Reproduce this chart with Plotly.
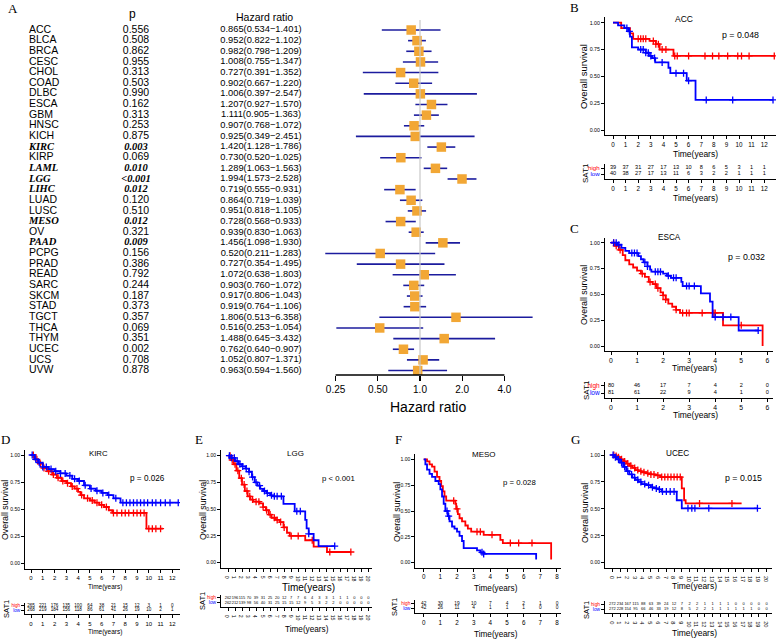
import plotly.graph_objects as go
import math

W, H = 780, 644
SANS = "Liberation Sans, Arial, sans-serif"
NARROW = "Liberation Sans, Arial, sans-serif"
SERIF = "Liberation Serif, Times New Roman, serif"
RED = "#FF0000"
BLUE = "#0000FF"

# ---------------- Panel A: forest plot data ----------------
cancers = ["ACC", "BLCA", "BRCA", "CESC", "CHOL", "COAD", "DLBC", "ESCA", "GBM", "HNSC",
           "KICH", "KIRC", "KIRP", "LAML", "LGG", "LIHC", "LUAD", "LUSC", "MESO", "OV",
           "PAAD", "PCPG", "PRAD", "READ", "SARC", "SKCM", "STAD", "TGCT", "THCA", "THYM",
           "UCEC", "UCS", "UVW"]
p_labels = ["0.556", "0.508", "0.862", "0.955", "0.313", "0.503", "0.990", "0.162", "0.313", "0.253",
            "0.875", "0.003", "0.069", "0.010", "<0.001", "0.012", "0.120", "0.510", "0.012", "0.321",
            "0.009", "0.156", "0.386", "0.792", "0.244", "0.187", "0.373", "0.357", "0.069", "0.351",
            "0.002", "0.708", "0.878"]
hr = [0.865, 0.952, 0.982, 1.008, 0.727, 0.902, 1.006, 1.207, 1.111, 0.907,
      0.925, 1.420, 0.730, 1.289, 1.994, 0.719, 0.864, 0.951, 0.728, 0.939,
      1.456, 0.520, 0.727, 1.072, 0.903, 0.917, 0.919, 1.806, 0.516, 1.488,
      0.762, 1.052, 0.963]
hr_low = [0.534, 0.822, 0.798, 0.755, 0.391, 0.667, 0.397, 0.927, 0.905, 0.768,
          0.349, 1.128, 0.520, 1.063, 1.573, 0.555, 0.719, 0.818, 0.568, 0.830,
          1.098, 0.211, 0.354, 0.638, 0.760, 0.806, 0.764, 0.513, 0.253, 0.645,
          0.640, 0.807, 0.594]
hr_high = [1.401, 1.102, 1.209, 1.347, 1.352, 1.220, 2.547, 1.570, 1.363, 1.072,
           2.451, 1.786, 1.025, 1.563, 2.528, 0.931, 1.039, 1.105, 0.933, 1.063,
           1.930, 1.283, 1.495, 1.803, 1.072, 1.043, 1.106, 6.358, 1.054, 3.432,
           0.907, 1.371, 1.560]
significant = ["KIRC", "LAML", "LGG", "LIHC", "MESO", "PAAD"]
hr_ticks = [0.25, 0.5, 1.0, 2.0, 4.0]
hr_tick_labels = ["0.25", "0.50", "1.0", "2.0", "4.0"]

# ---------------- KM data ----------------
# B: ACC
acc_high_t = [0, 0.65, 1.35, 1.6, 2.9, 3.4, 3.7, 4.8, 12.85]
acc_high_s = [1.0, 0.95, 0.90, 0.85, 0.83, 0.80, 0.75, 0.69, 0.69]
acc_high_c = [2.0, 2.2, 2.4, 2.6, 3.2, 3.4, 3.6, 3.9, 4.2, 4.9, 5.1, 6.0, 7.3, 7.9, 8.4, 9.1, 9.9, 10.2, 10.8, 12.8]
acc_low_t = [0, 0.4, 0.9, 1.2, 1.35, 1.5, 2.0, 2.6, 2.85, 3.1, 3.35, 4.4, 4.55, 5.85, 6.55, 12.7]
acc_low_s = [1.0, 0.975, 0.95, 0.92, 0.87, 0.77, 0.75, 0.72, 0.69, 0.67, 0.63, 0.58, 0.53, 0.46, 0.28, 0.28]
acc_low_c = [1.1, 1.3, 2.2, 2.4, 2.6, 2.8, 3.0, 3.3, 3.9, 5.0, 5.6, 6.0, 7.4, 9.5, 12.7]
acc_times = list(range(0, 13))
acc_risk_high = [39, 37, 31, 27, 17, 13, 10, 8, 6, 5, 3, 1, 1]
acc_risk_low = [40, 38, 27, 17, 13, 11, 6, 3, 2, 2, 1, 1, 1]

# C: ESCA
esca_high_t = [0, 0.15, 0.3, 0.45, 0.55, 0.7, 0.85, 1.0, 1.15, 1.3, 1.45, 1.6, 1.75, 1.9, 2.0, 2.1, 2.2, 2.35, 2.5, 2.65, 4.3, 5.82]
esca_high_s = [1.0, 0.97, 0.93, 0.88, 0.83, 0.79, 0.76, 0.73, 0.70, 0.67, 0.62, 0.60, 0.56, 0.52, 0.49, 0.45, 0.41, 0.38, 0.35, 0.32, 0.20, 0.0]
esca_high_c = [0.1, 0.2, 0.35, 1.2, 1.5, 1.7, 1.8, 2.0, 2.1, 2.5, 2.75, 2.9, 3.0, 3.5, 3.95, 4.0, 5.0]
esca_low_t = [0, 0.25, 0.4, 0.55, 0.7, 1.05, 1.15, 1.25, 1.4, 1.5, 1.55, 2.0, 2.15, 2.3, 2.7, 2.75, 3.45, 3.8, 3.9, 4.9, 5.65]
esca_low_s = [1.0, 0.98, 0.95, 0.92, 0.90, 0.87, 0.84, 0.81, 0.77, 0.74, 0.72, 0.70, 0.68, 0.66, 0.62, 0.58, 0.51, 0.43, 0.28, 0.15, 0.15]
esca_low_c = [0.1, 0.2, 0.3, 0.8, 0.9, 1.0, 1.3, 1.4, 1.7, 1.8, 1.9, 2.2, 2.4, 2.5, 2.9, 3.0, 3.2, 4.0, 4.3, 4.6, 5.65]
esca_times = list(range(0, 7))
esca_risk_high = [80, 46, 17, 7, 4, 2, 0]
esca_risk_low = [81, 61, 22, 9, 4, 1, 0]

# D: KIRC
kirc_high_t = [0, 0.3, 0.6, 1.0, 1.4, 1.8, 2.2, 2.6, 3.0, 3.4, 3.7, 4.0, 4.2, 4.5, 5.0, 5.4, 5.8, 6.2, 6.6, 6.9, 9.8, 11.2]
kirc_high_s = [1.0, 0.96, 0.92, 0.88, 0.85, 0.82, 0.79, 0.76, 0.74, 0.71, 0.69, 0.66, 0.63, 0.60, 0.58, 0.56, 0.54, 0.52, 0.49, 0.465, 0.32, 0.32]
kirc_high_c = [0.2, 0.5, 0.8, 1.1, 1.5, 1.9, 2.3, 2.7, 3.1, 3.5, 3.9, 4.3, 4.8, 5.2, 5.6, 6.0, 6.4, 7.0, 7.3, 7.7,
               8.0, 8.3, 8.7, 9.0, 9.3, 9.6, 10.0, 10.3, 10.6, 11.0]
kirc_low_t = [0, 0.3, 0.6, 1.0, 1.5, 2.0, 2.5, 3.0, 3.5, 4.0, 4.5, 5.0, 5.5, 6.0, 6.5, 7.0, 7.6, 12.5]
kirc_low_s = [1.0, 0.96, 0.93, 0.89, 0.87, 0.85, 0.83, 0.81, 0.78, 0.76, 0.72, 0.69, 0.67, 0.65, 0.63, 0.60, 0.56, 0.56]
kirc_low_c = [0.1, 0.4, 0.7, 1.0, 1.3, 1.7, 2.1, 2.5, 2.9, 3.3, 3.7, 4.1, 4.6, 5.1, 5.6, 6.1, 6.6, 7.2, 7.8, 8.1,
              8.4, 8.7, 9.0, 9.3, 9.6, 9.9, 10.3, 10.6, 11.0, 11.4, 11.8, 12.5]
kirc_times = list(range(0, 13))
kirc_risk_high = [265, 221, 176, 135, 100, 64, 38, 21, 15, 12, 3, 1, 0]
kirc_risk_low = [268, 219, 184, 156, 118, 86, 61, 41, 26, 19, 10, 2, 1]

# E: LGG
lgg_high_t = [0, 0.4, 0.8, 1.2, 1.6, 2.0, 2.4, 2.8, 3.2, 3.6, 4.5, 5.0, 5.4, 5.8, 6.2, 6.8, 7.4, 7.9, 8.4, 8.8, 11.0, 12.2, 14.1, 17.5]
lgg_high_s = [1.0, 0.96, 0.92, 0.86, 0.79, 0.73, 0.67, 0.62, 0.59, 0.57, 0.555, 0.52, 0.49, 0.45, 0.42, 0.40, 0.38, 0.33, 0.28, 0.25, 0.21, 0.15, 0.10, 0.10]
lgg_high_c = [0.3, 0.6, 1.0, 1.4, 1.9, 2.3, 2.7, 3.1, 3.5, 4.0, 4.4, 5.0, 5.5, 6.0, 6.6, 7.0, 7.5, 8.0, 9.0, 10.0, 12.0, 14.5, 17.5]
lgg_low_t = [0, 0.5, 1.0, 1.5, 2.0, 2.5, 3.0, 3.4, 3.8, 4.2, 4.6, 5.0, 5.5, 6.0, 6.5, 7.9, 9.5, 11.0, 11.2, 11.5, 12.2, 12.9, 15.2]
lgg_low_s = [1.0, 0.98, 0.95, 0.92, 0.90, 0.88, 0.85, 0.80, 0.75, 0.72, 0.69, 0.67, 0.65, 0.63, 0.62, 0.55, 0.48, 0.40, 0.32, 0.27, 0.21, 0.155, 0.155]
lgg_low_c = [0.2, 0.5, 0.9, 1.3, 1.7, 2.1, 2.6, 3.0, 3.5, 4.0, 4.5, 5.2, 5.6, 6.2, 6.6, 7.0, 7.6, 9.8, 10.3, 11.5, 15.2]
lgg_times = list(range(0, 21))
lgg_risk_high = [262, 196, 115, 70, 39, 31, 25, 20, 12, 7, 7, 6, 4, 3, 3, 1, 1, 1, 0, 0, 0]
lgg_risk_low = [262, 212, 139, 98, 56, 40, 31, 25, 15, 15, 12, 9, 5, 3, 2, 2, 0, 0, 0, 0, 0]

# F: MESO
meso_high_t = [0, 0.2, 0.35, 0.5, 0.65, 0.8, 0.95, 1.05, 1.15, 1.25, 1.35, 1.9, 1.95, 2.05, 2.15, 2.3, 2.5, 2.65, 2.85, 3.6, 4.6, 4.75, 7.65]
meso_high_s = [1.0, 0.98, 0.95, 0.93, 0.88, 0.83, 0.79, 0.74, 0.69, 0.64, 0.60, 0.57, 0.52, 0.47, 0.43, 0.40, 0.36, 0.33, 0.30, 0.27, 0.22, 0.19, 0.03]
meso_high_c = [1.8, 2.0, 3.2, 3.4, 4.1, 5.2, 5.7, 6.5]
meso_low_t = [0, 0.1, 0.2, 0.35, 0.5, 0.7, 0.9, 1.0, 1.1, 1.2, 1.3, 1.45, 1.55, 1.7, 1.85, 2.0, 2.15, 2.3, 2.4, 3.2, 3.4, 3.6, 6.75]
meso_low_s = [1.0, 0.95, 0.90, 0.86, 0.83, 0.79, 0.76, 0.71, 0.64, 0.57, 0.50, 0.45, 0.40, 0.35, 0.33, 0.30, 0.26, 0.21, 0.14, 0.12, 0.10, 0.085, 0.03]
meso_low_c = [1.4, 1.5, 3.5, 3.6]
meso_times = list(range(0, 9))
meso_risk_high = [42, 30, 19, 10, 7, 4, 2, 1, 0]
meso_risk_low = [42, 26, 11, 4, 1, 1, 1, 0, 0]

# G: UCEC
ucec_high_t = [0, 0.3, 0.6, 1.0, 1.4, 1.8, 2.2, 2.6, 3.0, 3.4, 3.8, 4.4, 5.0, 5.6, 6.2, 9.0, 9.3, 9.5, 16.75]
ucec_high_s = [1.0, 0.99, 0.98, 0.96, 0.94, 0.92, 0.90, 0.88, 0.86, 0.85, 0.84, 0.83, 0.82, 0.81, 0.795, 0.69, 0.58, 0.55, 0.55]
ucec_high_c = [0.2, 0.5, 0.8, 1.2, 1.6, 2.0, 2.4, 2.9, 3.3, 3.7, 4.1, 4.6, 5.0, 5.4, 5.9, 6.4, 6.8, 7.2, 7.6, 8.0, 8.4, 8.8, 11.3, 15.5]
ucec_low_t = [0, 0.3, 0.6, 1.0, 1.4, 1.8, 2.2, 2.6, 3.0, 3.4, 3.8, 4.4, 5.0, 5.5, 6.0, 6.4, 8.35, 9.0, 18.8]
ucec_low_s = [1.0, 0.98, 0.96, 0.93, 0.89, 0.85, 0.82, 0.79, 0.77, 0.75, 0.73, 0.72, 0.70, 0.69, 0.68, 0.66, 0.58, 0.505, 0.505]
ucec_low_c = [0.1, 0.4, 0.8, 1.2, 1.6, 2.0, 2.5, 2.9, 3.3, 3.7, 4.2, 4.7, 5.2, 5.7, 6.1, 6.5, 7.0, 7.5, 8.0, 9.8, 10.3, 10.7, 12.5, 18.8]
ucec_times = list(range(0, 21))
ucec_risk_high = [272, 234, 167, 115, 88, 63, 39, 24, 12, 7, 2, 2, 1, 1, 1, 1, 0, 0, 0, 0, 0]
ucec_risk_low = [272, 228, 154, 95, 66, 46, 33, 19, 12, 8, 5, 2, 2, 1, 1, 1, 1, 1, 1, 0, 0]

# ---------------- figure construction ----------------
fig = go.Figure()
axis_id = [0]
annotations = []
shapes = []


def add_axes(xd_px, yd_px, xr, yr, xopts, yopts):
    axis_id[0] += 1
    n = axis_id[0]
    s = "" if n == 1 else str(n)
    fig.update_layout(**{
        "xaxis" + s: dict(domain=[xd_px[0] / W, xd_px[1] / W], range=xr, anchor="y" + s,
                          showgrid=False, zeroline=False, fixedrange=True, **xopts),
        "yaxis" + s: dict(domain=[1 - yd_px[1] / H, 1 - yd_px[0] / H], range=yr, anchor="x" + s,
                          showgrid=False, zeroline=False, fixedrange=True, **yopts),
    })
    return "x" + s, "y" + s


def note(text, x, y, size, family=NARROW, angle=0, color="black", xanchor="center"):
    annotations.append(dict(text=text, x=x / W, y=1 - y / H, xref="paper", yref="paper",
                            showarrow=False, textangle=angle, xanchor=xanchor, yanchor="middle",
                            font=dict(family=family, size=size, color=color)))


# ---- Panel A ----
k = math.log10(2) / 42.2
fx, fy = add_axes((320, 545), (20, 375), [(320 - 420) * k, (545 - 420) * k], [32.42, -0.94],
                  dict(type="log", tickvals=hr_ticks, ticktext=hr_tick_labels, ticks="outside",
                       ticklen=5, tickwidth=1.2, tickcolor="black", showline=False,
                       tickfont=dict(family=SANS, size=10, color="black")),
                  dict(type="category", categoryarray=cancers, visible=False))

shapes.append(dict(type="line", xref=fx, yref=fy + " domain", x0=1, x1=1, y0=0, y1=1,
                   line=dict(color="#C8C8C8", width=1.2)))
shapes.append(dict(type="line", xref=fx, yref=fy + " domain", x0=hr_ticks[0], x1=hr_ticks[-1], y0=0, y1=0,
                   line=dict(color="black", width=1.3)))

ex, ey = [], []
for c, lo, hi in zip(cancers, hr_low, hr_high):
    ex += [lo, hi, None]
    ey += [c, c, None]
fig.add_trace(go.Scatter(x=ex, y=ey, mode="lines", line=dict(color="#1C1C9E", width=1.6),
                         xaxis=fx, yaxis=fy, hoverinfo="skip", showlegend=False))
fig.add_trace(go.Scatter(x=hr, y=cancers, mode="markers",
                         marker=dict(symbol="square", size=9.5, color="#F2A735"),
                         xaxis=fx, yaxis=fy, showlegend=False, hoverinfo="skip"))

fig.update_layout(xaxis99=dict(domain=[0, 318 / W], range=[0, 318], visible=False, anchor=fy,
                               fixedrange=True))
hr_text = [f"{h:.3f}({lo:.3f}\u2212{hi:.3f})" for h, lo, hi in zip(hr, hr_low, hr_high)]
norm_idx = [i for i, c in enumerate(cancers) if c not in significant]
sig_idx = [i for i, c in enumerate(cancers) if c in significant]
for idx, fam, weight, style in [(norm_idx, SANS, "normal", "normal"), (sig_idx, SERIF, "bold", "italic")]:
    rows = [cancers[i] for i in idx]
    fig.add_trace(go.Scatter(x=[29] * len(idx), y=rows, text=rows, mode="text",
                             textposition="middle right",
                             textfont=dict(family=fam, size=10.5, color="black", weight=weight, style=style),
                             xaxis="x99", yaxis=fy, showlegend=False, hoverinfo="skip"))
    fig.add_trace(go.Scatter(x=[136] * len(idx), y=rows, text=[p_labels[i] for i in idx], mode="text",
                             textposition="middle center",
                             textfont=dict(family=fam, size=10.5, color="black", weight=weight, style=style),
                             xaxis="x99", yaxis=fy, showlegend=False, hoverinfo="skip"))
fig.add_trace(go.Scatter(x=[261] * len(cancers), y=cancers, text=hr_text, mode="text",
                         textposition="middle center",
                         textfont=dict(family=SANS, size=9.3, color="black"),
                         xaxis="x99", yaxis=fy, showlegend=False, hoverinfo="skip"))

note("A", 13, 8, 13, family=SERIF)
note("p", 132, 14, 12, family=SANS)
note("Hazard ratio", 264, 17, 10.5, family=SANS)
note("Hazard ratio", 428, 407, 14, family=SANS)


def step_value(t, s, c):
    v = s[0]
    for ti, si in zip(t, s):
        if ti <= c:
            v = si
    return v


def km_panel(P):
    x0, ppy = P["x0"], P["ppy"]
    xl = P["xline"]
    xr = [(xl[0] - x0) / ppy, (xl[1] - x0) / ppy]
    unit = P["y0"] - P["y1"]
    top, bot = P["y1"] - 0.05 * unit, P["y0"] + 0.05 * unit
    tf = dict(family=NARROW, size=P["tick"], color="black")
    common = dict(showline=True, linecolor="black", linewidth=1, ticks="outside", ticklen=3,
                  tickwidth=1, tickcolor="black")
    xa, ya = add_axes(xl, (top, bot), xr, [-0.05, 1.05],
                      dict(tickvals=P["times"], tickfont=tf, **common),
                      dict(tickvals=[0, 0.25, 0.5, 0.75, 1.0],
                           ticktext=["0.00", "0.25", "0.50", "0.75", "1.00"],
                           tickfont=dict(family=NARROW, size=P["ytick"], color="black"), **common))
    for t, s, cens, col in [(P["ht"], P["hs"], P["hc"], RED), (P["lt"], P["ls"], P["lc"], BLUE)]:
        fig.add_trace(go.Scatter(x=t, y=s, mode="lines", line=dict(color=col, width=1.8, shape="hv"),
                                 xaxis=xa, yaxis=ya, showlegend=False, hoverinfo="skip"))
        fig.add_trace(go.Scatter(x=cens, y=[step_value(t, s, c) for c in cens], mode="markers",
                                 marker=dict(symbol="cross-thin", size=5, line=dict(color=col, width=1.3)),
                                 xaxis=xa, yaxis=ya, showlegend=False, hoverinfo="skip"))
    rd = P["low_px"] - P["high_px"]
    r_lo = -(P["axis_px"] - P["low_px"]) / rd
    r_hi = 1 + (P["high_px"] - P["rtop"]) / rd
    xb, yb = add_axes(xl, (P["rtop"], P["axis_px"]), xr, [r_lo, r_hi],
                      dict(tickvals=P["times"], tickfont=tf, **common),
                      dict(tickvals=[0, 1],
                           ticktext=[f"<span style='color:{BLUE}'>low</span>",
                                     f"<span style='color:{RED}'>high</span>"],
                           tickfont=dict(family=NARROW, size=P["lsize"]), **common))
    for row, vals in [(1, P["rh"]), (0, P["rl"])]:
        fig.add_trace(go.Scatter(x=P["times"], y=[row] * len(vals), text=[str(v) for v in vals],
                                 mode="text", textposition="middle center",
                                 textfont=dict(family=NARROW, size=P["rsize"], color="black"),
                                 xaxis=xb, yaxis=yb, showlegend=False, hoverinfo="skip"))
    note(P["letter"], P["letter_xy"][0], P["letter_xy"][1], 13, family=SERIF)
    note(P["title"], P["title_xy"][0], P["title_xy"][1], P["title_size"])
    note(P["p"], P["p_xy"][0], P["p_xy"][1], P["p_size"])
    note("Overall survival", P["os_xy"][0], P["os_xy"][1], P["os_size"], angle=-90)
    note("Time(years)", P["t1_xy"][0], P["t1_xy"][1], P["t1_size"])
    note("Time(years)", P["t2_xy"][0], P["t2_xy"][1], P["t2_size"])
    note("SAT1", P["sat_xy"][0], P["sat_xy"][1], P["sat_size"], angle=-90)


panels = [
    dict(letter="B", letter_xy=(574, 7), title="ACC", title_xy=(684, 19), p="p = 0.048", p_xy=(740, 35),
         xline=(605, 776), x0=613, ppy=12.6, y1=22.7, y0=130, rtop=164, high_px=168, low_px=174, axis_px=179.3,
         times=acc_times, ht=acc_high_t, hs=acc_high_s, hc=acc_high_c, lt=acc_low_t, ls=acc_low_s, lc=acc_low_c,
         rh=acc_risk_high, rl=acc_risk_low, tick=6.3, ytick=5.3, rsize=5.6, lsize=6.2, title_size=8.5, p_size=8.8,
         os_xy=(584, 77), os_size=9.5, t1_xy=(695, 154), t1_size=8.5, t2_xy=(695, 198), t2_size=8.5,
         sat_xy=(586, 173), sat_size=8),
    dict(letter="C", letter_xy=(574, 228), title="ESCA", title_xy=(669, 238), p="p = 0.032", p_xy=(746, 257),
         xline=(605, 773), x0=611, ppy=26.05, y1=242.7, y0=346, rtop=382, high_px=385.5, low_px=393, axis_px=397.7,
         times=esca_times, ht=esca_high_t, hs=esca_high_s, hc=esca_high_c, lt=esca_low_t, ls=esca_low_s, lc=esca_low_c,
         rh=esca_risk_high, rl=esca_risk_low, tick=6.8, ytick=5.3, rsize=5.6, lsize=6.5, title_size=8.2, p_size=8.8,
         os_xy=(584, 295), os_size=8.8, t1_xy=(694, 368), t1_size=8.5, t2_xy=(695, 415), t2_size=8.5,
         sat_xy=(586, 390), sat_size=8),
    dict(letter="D", letter_xy=(5, 439), title="KIRC", title_xy=(98, 453), p="p = 0.026", p_xy=(147, 478),
         xline=(25, 180), x0=31, ppy=11.78, y1=455, y0=563.3, rtop=603, high_px=605.7, low_px=610.3, axis_px=614.3,
         times=kirc_times, ht=kirc_high_t, hs=kirc_high_s, hc=kirc_high_c, lt=kirc_low_t, ls=kirc_low_s, lc=kirc_low_c,
         rh=kirc_risk_high, rl=kirc_risk_low, tick=6, ytick=5, rsize=4.6, lsize=4.6, title_size=7.8, p_size=8.2,
         os_xy=(5, 510), os_size=8.8, t1_xy=(105, 587), t1_size=6.5, t2_xy=(105, 632), t2_size=6.5,
         sat_xy=(6, 609), sat_size=7.5),
    dict(letter="E", letter_xy=(199, 439), title="LGG", title_xy=(295, 453), p="p < 0.001", p_xy=(338, 478),
         xline=(221, 372), x0=228, ppy=7.02, y1=455.7, y0=562.7, rtop=595, high_px=597.7, low_px=602.7, axis_px=607,
         times=lgg_times, ht=lgg_high_t, hs=lgg_high_s, hc=lgg_high_c, lt=lgg_low_t, ls=lgg_low_s, lc=lgg_low_c,
         rh=lgg_risk_high, rl=lgg_risk_low, tick=5.2, ytick=5, rsize=4, lsize=4.8, title_size=8, p_size=7.8,
         os_xy=(203, 510), os_size=8.8, t1_xy=(308, 587), t1_size=10, t2_xy=(307, 629), t2_size=8.2,
         sat_xy=(202, 601), sat_size=7.5),
    dict(letter="F", letter_xy=(398, 439), title="MESO", title_xy=(484, 454), p="p = 0.028", p_xy=(519, 482),
         xline=(415.3, 561), x0=423.7, ppy=16.66, y1=459.3, y0=562.7, rtop=600, high_px=603.3, low_px=608.3, axis_px=613.3,
         times=meso_times, ht=meso_high_t, hs=meso_high_s, hc=meso_high_c, lt=meso_low_t, ls=meso_low_s, lc=meso_low_c,
         rh=meso_risk_high, rl=meso_risk_low, tick=6.3, ytick=5, rsize=4.8, lsize=4.8, title_size=8, p_size=7.8,
         os_xy=(397, 512), os_size=8.8, t1_xy=(496, 588), t1_size=8.2, t2_xy=(496, 634), t2_size=8.2,
         sat_xy=(394, 607), sat_size=7.5),
    dict(letter="G", letter_xy=(575, 439), title="UCEC", title_xy=(677, 453), p="p = 0.015", p_xy=(743, 478),
         xline=(605, 772), x0=612.3, ppy=7.72, y1=455, y0=562.7, rtop=601, high_px=604, low_px=609, axis_px=613.3,
         times=ucec_times, ht=ucec_high_t, hs=ucec_high_s, hc=ucec_high_c, lt=ucec_low_t, ls=ucec_low_s, lc=ucec_low_c,
         rh=ucec_risk_high, rl=ucec_risk_low, tick=5.6, ytick=5, rsize=4, lsize=4.8, title_size=8.2, p_size=8.8,
         os_xy=(585, 513), os_size=8.8, t1_xy=(694, 586), t1_size=8.5, t2_xy=(694, 633), t2_size=8.5,
         sat_xy=(586, 610), sat_size=7.5),
]
for P in panels:
    km_panel(P)

fig.update_layout(width=W, height=H, margin=dict(l=0, r=0, t=0, b=0), autosize=False,
                  paper_bgcolor="white", plot_bgcolor="white", showlegend=False,
                  annotations=annotations, shapes=shapes, hovermode=False)
fig.write_html("out.html", config={"displayModeBar": False, "staticPlot": True},
               post_script="document.body.style.margin='0px';")
